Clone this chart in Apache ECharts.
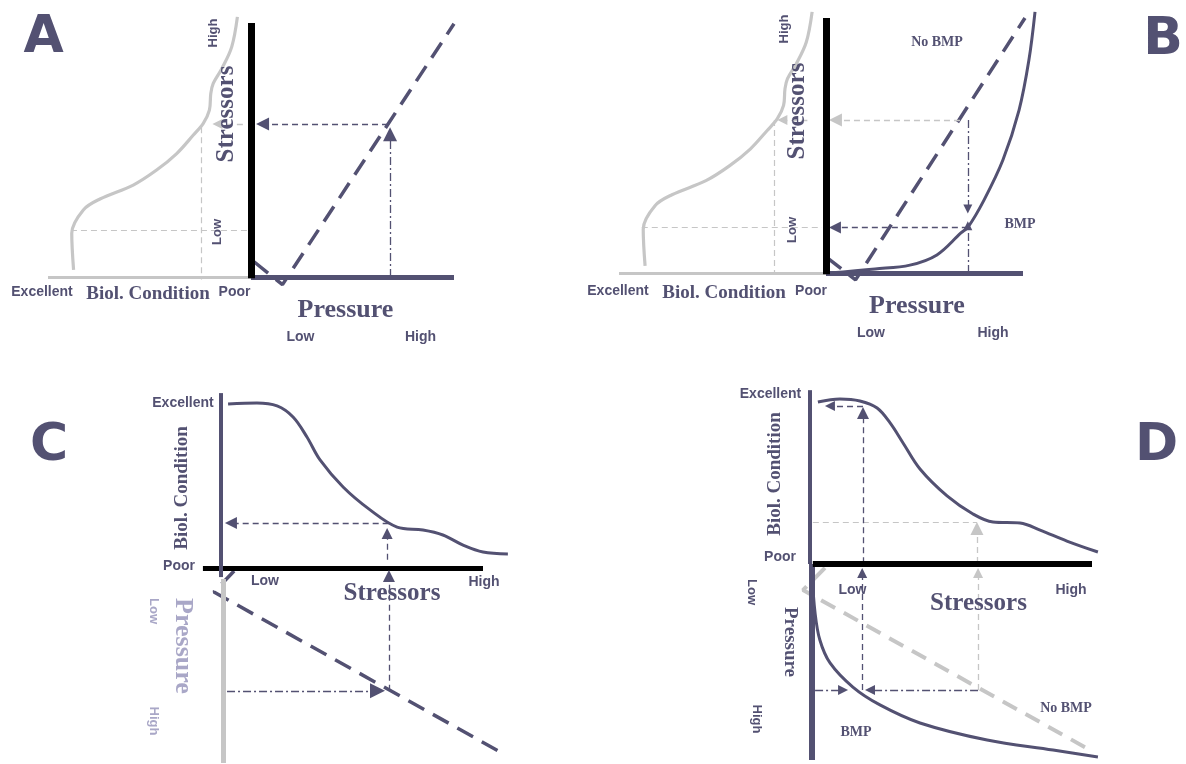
<!DOCTYPE html>
<html><head><meta charset="utf-8">
<script src="https://cdn.jsdelivr.net/npm/echarts@6/dist/echarts.min.js"></script>
<style>html,body{margin:0;padding:0;background:#fff}#c{width:1186px;height:764px}</style>
</head><body><div id="c"></div>
<script>
// ================= DATA (normalised 0..10 units) =================
// Panels A/B: [biological condition (0 Poor .. 10 Excellent), stressor level (0 Low .. 10 High)]
const bioCurveAB = [[8.74,0.28],[8.83,1.72],[8.26,2.64],[7.44,3.07],[5.8,3.62],[4.65,4.21],[3.66,4.86],[2.84,5.59],[2.35,6.05],[2.05,6.57],[1.98,7.23],[1.86,7.62],[1.44,8.2],[0.95,9.06],[0.67,10.24]];
// Panel A: [pressure, stressor]
const pressureLineA = [[0.15,0.6],[1.55,-0.3],[10,9.97]];
// Panel B: [pressure, stressor]
const noBmpLineB = [[0.05,0.6],[1.5,-0.27],[10.1,10]];
const bmpCurveB = [[0.15,0],[2.49,0.16],[4.26,0.31],[5.63,0.71],[6.85,1.57],[7.21,1.8],[8.02,2.86],[8.98,4.43],[9.8,6.39],[10.3,8.35],[10.61,10.24]];
// Panel C: [stressor, biological condition] and [stressor, pressure]
const bioCurveC = [[0.27,9.94],[1.37,10.0],[2.14,9.82],[2.75,9.15],[3.28,7.94],[3.78,6.55],[4.66,4.91],[5.69,3.52],[6.72,2.48],[7.71,2.3],[8.47,2.0],[9.24,1.39],[10.0,0.97],[10.95,0.85]];
const pressureLineC = [[0.5,0.15],[-0.27,1.23],[10.73,9.49]];
// Panel D
const bioCurveD = [[0.28,9.88],[1.06,10.06],[1.77,9.94],[2.38,9.51],[2.84,8.6],[3.3,7.38],[3.9,5.79],[4.86,4.15],[5.78,3.05],[6.49,2.56],[7.45,2.5],[8.16,2.07],[9.11,1.4],[10.21,0.73]];
const noBmpLineD = [[0.53,0.2],[-0.25,1.33],[9.93,9.49]];
const bmpCurveD = [[0.07,0.46],[0.18,2.5],[0.35,3.88],[0.71,5.05],[1.52,6.28],[2.48,7.19],[3.9,8.11],[6.28,8.98],[8.62,9.49],[10.21,9.85]];
// Read-off levels used by the guide arrows
const readA = [6.8, 6.02, 2.46, 1.85];      // pressure, stressor, condition, low stressor
const readB = [7.2, 6.0, 1.78, 2.5];        // pressure, stressor(no BMP), stressor(BMP), condition
const readC = [6.4, 2.73, 6.3];             // stressor, condition, pressure
const readD = [1.88, 9.63, 5.94, 2.56, 6.43]; // stressor(BMP), condition(BMP), stressor(no BMP), condition(no BMP), pressure
const panelLetters = ['A','B','C','D'];
const levelTicks = ['Low','High'];
const conditionTicks = ['Excellent','Poor'];

// ================= STYLE / LAYOUT =================
const DARK = '#535172', GREY = '#c6c6c6', LIGHT = '#a9a7c7';
const SANS = '"Liberation Sans", Arial, sans-serif';
const SERIF = '"Liberation Serif", "Times New Roman", serif';
const DASH = [6,4], DASHDOT = [8,3,2,3], BIGDASH = [18,10];
const PAD = 1.5;
// pixel boxes of the 0..10 range of each plot: [left, top, width, height, xInverse, yInverse]
const boxes = [
  [48, 23, 203, 254, true, false],   // 0 A bio
  [251, 23, 203, 254, false, false], // 1 A pressure
  [619, 18, 207, 255, true, false],  // 2 B bio
  [826, 18, 197, 255, false, false], // 3 B pressure
  [221, 403, 262, 165, false, false],// 4 C bio
  [221, 568, 262, 195, false, true], // 5 C pressure
  [810, 400, 282, 164, false, false],// 6 D bio
  [810, 564, 282, 196, false, true]  // 7 D pressure
];
const grids = boxes.map(b => ({left: b[0] - PAD*b[2]/10, top: b[1], width: b[2]*(1 + 2*PAD/10), height: b[3]}));
const xAxis = boxes.map((b, i) => ({gridIndex:i, type:'value', min:-PAD, max:10+PAD, inverse:b[4], show:false}));
const yAxis = boxes.map((b, i) => ({gridIndex:i, type:'value', min:0, max:10, inverse:b[5], show:false}));
const scale = boxes.map(b => [b[2]/10*(b[4]?-1:1), -b[3]/10*(b[5]?-1:1)]);

function curve(g, data, color, width, type, smooth) {
  return {type:'line', xAxisIndex:g, yAxisIndex:g, data, symbol:'none', showSymbol:false,
    smooth: smooth || false, clip:false, silent:true, z:2,
    lineStyle:{color, width, type: type || 'solid', cap:'butt'}};
}
function seg(g, from, to, color, width, type, endSym, size, z) {
  return {type:'lines', coordinateSystem:'cartesian2d', xAxisIndex:g, yAxisIndex:g,
    data:[{coords:[from, to]}], symbol:['none', endSym || 'none'], symbolSize:size || [12,12],
    clip:false, silent:true, z: z || 3, itemStyle:{color},
    lineStyle:{color, width, type: type || 'solid', opacity:1, curveness:0}};
}
// arrow whose triangle tip lands on `tip`
function arrow(g, from, tip, color, type, size, w) {
  const s = scale[g];
  const dx = (tip[0]-from[0])*s[0], dy = (tip[1]-from[1])*s[1];
  const L = Math.hypot(dx, dy) || 1, h = size[1]/2;
  const end = [tip[0] - h*dx/L/s[0], tip[1] - h*dy/L/s[1]];
  return seg(g, from, end, color, w || 1.3, type, 'triangle', size, 4);
}

const series = [
  // ---- A ----
  seg(0, [10,0], [0,0], GREY, 3),
  seg(1, [0,0], [10,0], DARK, 5),
  seg(1, [0,-0.05], [0,10], '#000', 7, 'solid', 'none', 0, 5),
  curve(0, bioCurveAB, GREY, 3.2, 'solid', 0.35),
  curve(1, pressureLineA, DARK, 3.5, BIGDASH),
  seg(0, [8.87, readA[3]], [0.15, readA[3]], GREY, 1.2, DASH),
  seg(0, [readA[2], 5.9], [readA[2], -0.1], GREY, 1.2, DASH),
  arrow(0, [0.4, readA[1]], [1.9, readA[1]], GREY, DASH, [11,10]),
  arrow(1, [readA[0]-0.05, readA[1]], [0.25, readA[1]], DARK, DASH, [14,13]),
  arrow(1, [readA[0]+0.05, 0], [readA[0]+0.05, readA[1]-0.12], DARK, DASHDOT, [16,14]),
  // ---- B ----
  seg(2, [10,0], [0,0], GREY, 3),
  seg(3, [0,0], [10,0], DARK, 5),
  seg(3, [0,-0.05], [0,10], '#000', 7, 'solid', 'none', 0, 5),
  curve(2, bioCurveAB, GREY, 3.2, 'solid', 0.35),
  curve(3, noBmpLineB, DARK, 3.5, BIGDASH),
  curve(3, bmpCurveB, DARK, 3, 'solid', 0.35),
  seg(2, [8.9, readB[2]], [0.2, readB[2]], GREY, 1.2, DASH),
  seg(2, [readB[3], readB[1]], [readB[3], 0], GREY, 1.2, DASH),
  arrow(2, [0.9, readB[1]], [2.35, readB[1]], GREY, DASH, [11,10]),
  arrow(3, [readB[0]-0.4, readB[1]], [0.15, readB[1]], GREY, DASH, [14,13]),
  arrow(3, [readB[0], readB[1]], [readB[0], readB[2]+0.55], DARK, DASHDOT, [9,9]),
  arrow(3, [readB[0], 0], [readB[0], readB[2]+0.25], DARK, DASHDOT, [9,9]),
  arrow(3, [readB[0], readB[2]], [0.15, readB[2]], DARK, DASH, [13,12]),
  // ---- C ----
  seg(4, [-0.69,0], [10,0], '#000', 5),
  seg(4, [0,-0.55], [0,10.6], DARK, 4),
  seg(5, [0.07,0.56], [0.07,10], GREY, 5),
  curve(4, bioCurveC, DARK, 3, 'solid', 0.35),
  curve(5, pressureLineC, DARK, 3.5, BIGDASH),
  arrow(4, [readC[0], readC[1]], [0.15, readC[1]], DARK, DASH, [12,12]),
  arrow(4, [readC[0]-0.06, 0.5], [readC[0]-0.06, readC[1]-0.3], DARK, DASH, [10,11]),
  arrow(5, [readC[0]+0.01, readC[2]], [readC[0]+0.01, 0.1], DARK, DASH, [17,12]),
  arrow(5, [0.23, readC[2]], [readC[0]-0.14, readC[2]], DARK, DASHDOT, [16,15]),
  // ---- D ----
  seg(6, [0,0], [0,10.6], DARK, 4),
  seg(7, [0.07,0], [0.07,10], DARK, 6),
  seg(6, [0.1,0], [10,0], '#000', 6, 'solid', 'none', 0, 5),
  curve(6, bioCurveD, DARK, 3, 'solid', 0.35),
  curve(7, noBmpLineD, GREY, 4, [16,10]),
  curve(7, bmpCurveD, DARK, 3, 'solid', 0.35),
  arrow(6, [readD[0], readD[1]], [0.53, readD[1]], DARK, DASH, [11,10]),
  arrow(6, [readD[0], 0.05], [readD[0], readD[1]-0.06], DARK, DASH, [16,12]),
  arrow(7, [readD[0]-0.03, readD[4]], [readD[0]-0.03, 0.2], DARK, DASH, [16,10]),
  seg(6, [0.1, readD[3]], [readD[2]-0.02, readD[3]], GREY, 1.2, DASH),
  arrow(6, [readD[2]-0.02, 0.06], [readD[2]-0.02, readD[3]], GREY, DASH, [16,13]),
  arrow(7, [readD[2]+0.02, readD[4]], [readD[2]+0.02, 0.2], GREY, DASH, [17,10]),
  arrow(7, [0.18, readD[4]], [1.35, readD[4]], DARK, DASHDOT, [10,10]),
  arrow(7, [readD[2]+0.02, readD[4]], [readD[0]+0.07, readD[4]], DARK, DASHDOT, [10,10])
];

// ================= TEXT =================
const R = Math.PI/2;
function txt(text, x, y, font, color, rot) {
  return {type:'text', x, y, rotation: rot || 0, z:10, silent:true,
    style:{text, font, fill: color || DARK, align:'center', verticalAlign:'middle'}};
}
const big = 'bold 52px "DejaVu Sans", Verdana, sans-serif';
const s14 = 'bold 14px ' + SANS, s13 = 'bold 13px ' + SANS;
const serif25 = 'bold 25px ' + SERIF, serif26 = 'bold 26px ' + SERIF, serif19 = 'bold 19px ' + SERIF, serif14 = 'bold 14px ' + SERIF;
const graphic = [
  // A
  txt(panelLetters[0], 43.5, 38, big),
  txt(levelTicks[1], 213, 33, s13, DARK, R),
  txt('Stressors', 227, 114, serif25, DARK, R),
  txt(levelTicks[0], 217, 232, s13, DARK, R),
  txt(conditionTicks[0], 42, 292, s14),
  txt('Biol. Condition', 148, 294, serif19),
  txt(conditionTicks[1], 234.5, 292, s14),
  txt('Pressure', 345.5, 310, serif26),
  txt(levelTicks[0], 300.5, 337, s14),
  txt(levelTicks[1], 420.5, 337, s14),
  // B
  txt(panelLetters[1], 1163, 40, big),
  txt(levelTicks[1], 784, 29, s13, DARK, R),
  txt('Stressors', 797.5, 111, serif25, DARK, R),
  txt(levelTicks[0], 792, 230, s13, DARK, R),
  txt(conditionTicks[0], 618, 291, s14),
  txt('Biol. Condition', 724, 293, serif19),
  txt(conditionTicks[1], 811, 291, s14),
  txt('Pressure', 917, 306, serif26),
  txt(levelTicks[0], 871, 333, s14),
  txt(levelTicks[1], 993, 333, s14),
  txt('No BMP', 937, 42, serif14),
  txt('BMP', 1020, 224, serif14),
  // C
  txt(panelLetters[2], 49, 446, big),
  txt(conditionTicks[0], 183, 403, s14),
  txt('Biol. Condition', 182, 488, serif19, DARK, R),
  txt(conditionTicks[1], 179, 566, s14),
  txt(levelTicks[0], 265, 581, s14),
  txt(levelTicks[1], 484, 582, s14),
  txt('Stressors', 392, 594, serif25),
  txt(levelTicks[0], 154, 611, s13, LIGHT, -R),
  txt('Pressure', 183, 646, serif26, LIGHT, -R),
  txt(levelTicks[1], 154, 721, s13, LIGHT, -R),
  // D
  txt(panelLetters[3], 1156.5, 446, big),
  txt(conditionTicks[0], 770.5, 394, s14),
  txt('Biol. Condition', 775, 474, serif19, DARK, R),
  txt(conditionTicks[1], 780, 557, s14),
  txt(levelTicks[0], 752, 592, s13, DARK, -R),
  txt('Pressure', 790, 642, serif19, DARK, -R),
  txt(levelTicks[1], 757, 719, s13, DARK, -R),
  txt(levelTicks[0], 852.5, 590, s14),
  txt(levelTicks[1], 1071, 590, s14),
  txt('Stressors', 978.5, 604, serif25),
  txt('No BMP', 1066, 708, serif14),
  txt('BMP', 856, 732, serif14)
];

const chart = echarts.init(document.getElementById('c'), null, {renderer:'canvas'});
chart.setOption({animation:false, backgroundColor:'#fff', grid:grids, xAxis, yAxis, series, graphic});
</script></body></html>
